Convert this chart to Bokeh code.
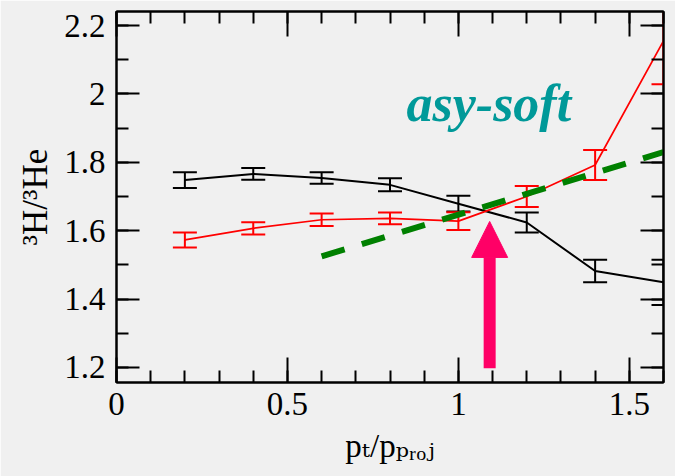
from bokeh.plotting import figure
from bokeh.models import (LinearAxis, SingleIntervalTicker, NumeralTickFormatter,
                          Label, Arrow, NormalHead, Range1d, ColumnDataSource)
from bokeh.embed import file_html
from bokeh.resources import INLINE

# ---------------- data ----------------
p_ratio = [0.2, 0.4, 0.6, 0.8, 1.0, 1.2, 1.4, 1.6]
black_vals = [1.748, 1.766, 1.754, 1.734, 1.679, 1.624, 1.482, 1.449]
black_errs = [0.023, 0.017, 0.017, 0.019, 0.023, 0.029, 0.033, 0.066]
red_vals = [1.573, 1.607, 1.632, 1.636, 1.628, 1.700, 1.792, 2.155]
red_errs = [0.022, 0.018, 0.018, 0.017, 0.026, 0.031, 0.044, 0.127]
green_x = [0.6, 1.6]
green_y = [1.525, 1.83]
arrow_x = 1.0915
arrow_tip = 1.627
arrow_bottom = 1.198
label_text = "asy-soft"
x_title = "p\u209c/p\u209a\u1d63\u2092\u2c7c"
y_title = "\u00b3H/\u00b3He"

# ---------------- layout ----------------
W, H = 675, 476
FL, FT, FR, FB = 116, 11, 663, 382
X0, X1 = 0.0, 1.6
Y0, Y1 = 1.156, 2.241
BG = "#f0f0f0"
FONT = "Liberation Serif"
TITLE_FONT = "Liberation Serif, DejaVu Serif"


def dx(px):
    return X0 + (px - FL) / (FR - FL) * (X1 - X0)


def dy(py):
    return Y1 - (py - FT) / (FB - FT) * (Y1 - Y0)


p = figure(width=W, height=H, output_backend="svg", toolbar_location=None,
           x_range=Range1d(X0, X1), y_range=Range1d(Y0, Y1),
           x_axis_type=None, y_axis_type=None,
           min_border_left=FL, min_border_right=W - FR,
           min_border_top=FT, min_border_bottom=H - FB)
p.background_fill_color = BG
p.border_fill_color = BG
p.outline_line_color = "black"
p.outline_line_width = 2
p.xgrid.visible = False
p.ygrid.visible = False


def make_axis(kind, labels):
    if kind == "x":
        t = SingleIntervalTicker(interval=0.5, num_minor_ticks=5)
        major = 25
    else:
        t = SingleIntervalTicker(interval=0.2, num_minor_ticks=2)
        major = 23
    ax = LinearAxis(ticker=t, formatter=NumeralTickFormatter(format="0.[0]"))
    ax.axis_line_width = 2
    ax.major_tick_line_width = 2
    ax.minor_tick_line_width = 2
    ax.major_tick_in = major
    ax.major_tick_out = 0
    ax.minor_tick_in = 12
    ax.minor_tick_out = 0
    if labels:
        ax.major_label_text_font = FONT
        ax.major_label_text_font_size = "33px"
        ax.major_label_text_color = "black"
        ax.axis_label_text_font_style = "normal"
        ax.axis_label_text_color = "black"
    else:
        ax.major_label_text_font_size = "1px"
        ax.major_label_text_color = None
        ax.major_label_standoff = 0
    return ax


xb = make_axis("x", True)
xb.major_label_standoff = 10
xb.axis_label = x_title
xb.axis_label_text_font = TITLE_FONT
xb.axis_label_text_font_size = "33px"
xb.axis_label_standoff = 10
p.add_layout(xb, "below")
yl = make_axis("y", True)
yl.major_label_standoff = 11
yl.axis_label = y_title
yl.axis_label_text_font = FONT
yl.axis_label_text_font_size = "35px"
yl.axis_label_standoff = 6
p.add_layout(yl, "left")
p.add_layout(make_axis("x", False), "above")
p.add_layout(make_axis("y", False), "right")

# ---------------- series ----------------
def series(vals, errs, color, lw):
    src = ColumnDataSource(dict(
        x=p_ratio, y=vals,
        lo=[v - e for v, e in zip(vals, errs)],
        hi=[v + e for v, e in zip(vals, errs)]))
    p.segment(x0="x", y0="lo", x1="x", y1="hi", source=src,
              line_color=color, line_width=2)
    p.scatter(x="x", y="lo", source=src, marker="dash", size=24,
              line_color=color, line_width=2)
    p.scatter(x="x", y="hi", source=src, marker="dash", size=24,
              line_color=color, line_width=2)
    p.line(x="x", y="y", source=src, line_color=color, line_width=lw)


series(black_vals, black_errs, "black", 2)
series(red_vals, red_errs, "#ff0000", 1.7)

p.line(green_x, green_y, line_color="#008000", line_width=6, line_dash="24 18")

p.add_layout(Arrow(x_start=arrow_x, y_start=arrow_bottom, x_end=arrow_x, y_end=arrow_tip,
                   line_color="#ff0066", line_width=12,
                   end=NormalHead(size=36, fill_color="#ff0066", line_color="#ff0066",
                                  line_width=1)))

p.add_layout(Label(x=dx(406), y=dy(103), text=label_text, text_font=FONT,
                   text_font_style="bold italic", text_font_size="52px",
                   text_color="#009999", text_baseline="alphabetic", text_align="left"))

open("out.html", "w").write(file_html(p, INLINE))
